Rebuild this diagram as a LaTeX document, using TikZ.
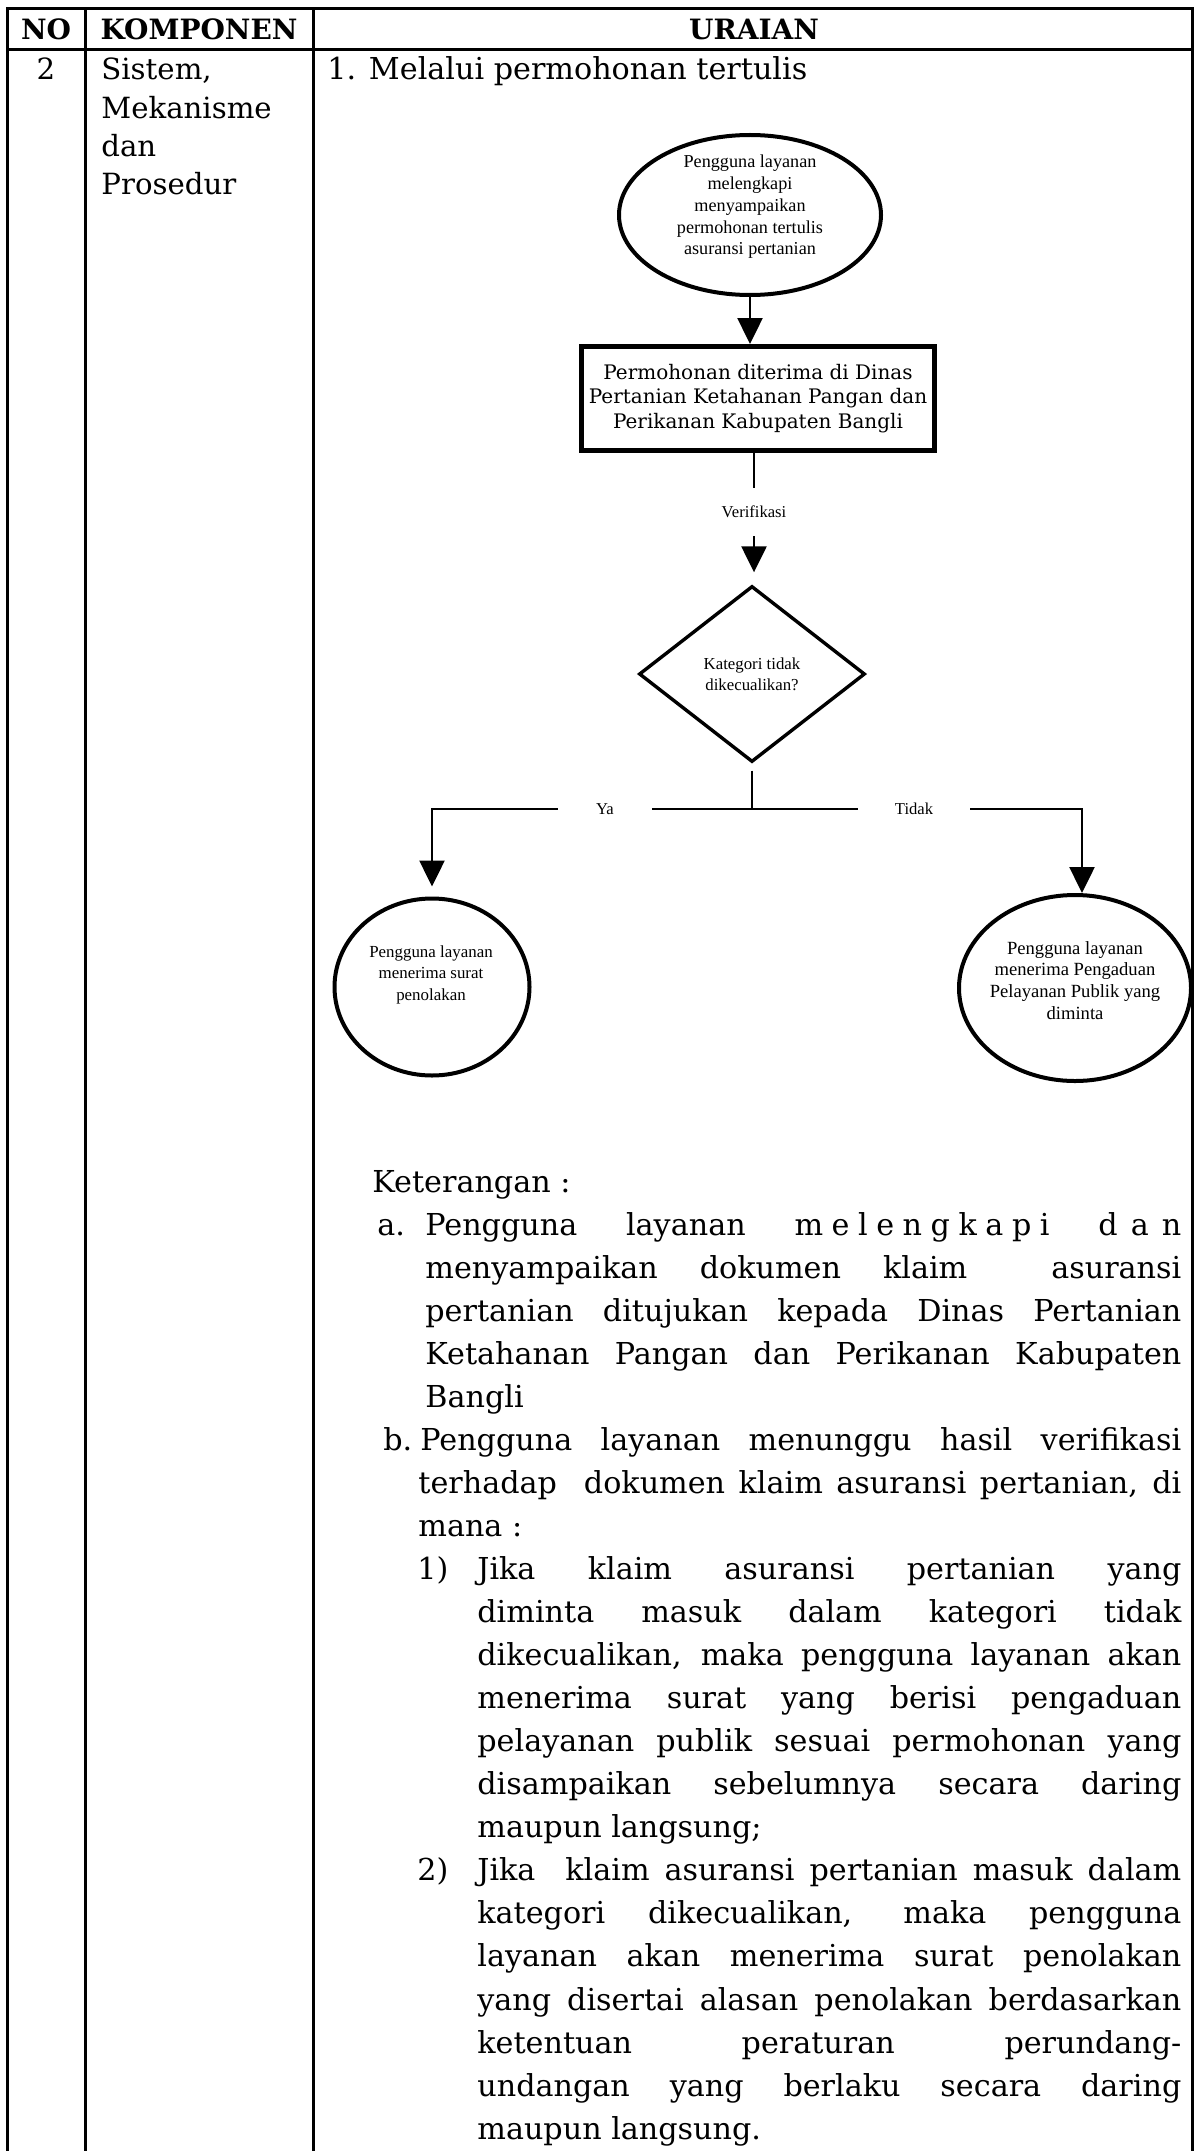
\documentclass[tikz,border=0pt]{standalone}
\usepackage{fontspec}
\setmainfont{DejaVu Serif}
\newfontfamily\tnr{Liberation Serif}
\usetikzlibrary{arrows.meta,shapes.geometric}
\newcommand{\jb}[2]{\makebox[#1pt][s]{#2}}
\begin{document}
\begin{tikzpicture}[x=0.5pt,y=-0.5pt,
  tbl/.style={line width=1.5pt, line join=miter},
  hd/.style={font=\fontsize{14}{16}\selectfont\bfseries, anchor=base, inner sep=0},
  body/.style={font=\fontsize{15.1}{18}\selectfont, anchor=base west, inner sep=0},
  conn/.style={line width=1.25pt},
  arr/.style={conn, -{Triangle[width=12.5pt,length=13pt]}},
  ftx/.style={align=center, inner sep=0, font=\tnr\fontsize{9.1}{10.85}\selectfont},
  lbl/.style={inner sep=0, font=\tnr\fontsize{8.3}{10}\selectfont},
  oval/.style={ellipse, draw, line width=2pt, inner sep=0}
]
\fill[white] (0,0) rectangle (1197,2151);
\useasboundingbox (0,0) rectangle (1197,2151);

% table
\draw[tbl] (7,2151) -- (7,9) -- (1192,9) -- (1192,2151);
\draw[tbl] (7,50) -- (1192,50);
\draw[tbl] (85,9) -- (85,2151);
\draw[tbl] (313,9) -- (313,2151);

\node[hd] (hno) at (46,40) {NO};
\node[hd] (hkomp) at (199,40) {KOMPONEN};
\node[hd] (hur) at (754,40) {URAIAN};

\node[body, anchor=base, font=\fontsize{14.6}{18}\selectfont] (no2) at (46,80) {2};
\node[body, font=\fontsize{14.6}{18}\selectfont] (k1) at (101,80) {Sistem,};
\node[body, font=\fontsize{14.6}{18}\selectfont] (k2) at (101,118.5) {Mekanisme};
\node[body, font=\fontsize{14.6}{18}\selectfont] (k3) at (101,157) {dan};
\node[body, font=\fontsize{14.6}{18}\selectfont] (k4) at (101,195) {Prosedur};
\node[body] (u1) at (327,80) {1. Melalui permohonan tertulis};

% flowchart
\node[oval, minimum width=131pt, minimum height=80pt] (e1) at (750,215) {};
\node[ftx] (e1t) at (750,207) {Pengguna layanan\\melengkapi\\menyampaikan\\permohonan tertulis\\asuransi pertanian};
\node[draw, line width=2.5pt, minimum width=176.5pt, minimum height=52pt, inner sep=0, align=center,
      font=\fontsize{10}{12.25}\selectfont] (r1) at (758,398.5)
      {Permohonan diterima di Dinas\\Pertanian Ketahanan Pangan dan\\Perikanan Kabupaten Bangli};
\draw[arr] (e1.south) -- (e1.south |- r1.north);

\node[lbl, minimum height=24pt] (ver) at (754,512) {Verifikasi};
\node[diamond, draw, line width=1.7pt, minimum width=113pt, minimum height=88pt, inner sep=0, align=center,
      font=\tnr\fontsize{8.4}{10.5}\selectfont] (d) at (752,674) {Kategori tidak\\dikecualikan?};
\draw[conn] (r1.south -| ver) -- (ver.north);
\draw[arr, shorten >=6pt] (ver.south) -- (ver.south |- d.north);

\coordinate (j) at (752,809);
\node[lbl, minimum width=47pt] (ya) at (605,809) {Ya};
\node[lbl, minimum width=56pt] (td) at (914,809) {Tidak};
\node[oval, minimum width=97.5pt, minimum height=88.5pt] (c1) at (432,987) {};
\node[ftx, font=\tnr\fontsize{8.45}{10.75}\selectfont] (c1t) at (431,974.5) {Pengguna layanan\\menerima surat\\penolakan};
\node[oval, minimum width=116pt, minimum height=93pt] (c2) at (1075,988) {};
\node[ftx, font=\tnr\fontsize{9.3}{10.9}\selectfont] (c2t) at (1075,980.5) {Pengguna layanan\\menerima Pengaduan\\Pelayanan Publik yang\\diminta};

\draw[conn, shorten <=3.5pt] (d.south) -- (j);
\draw[conn] (ya.east) -- (td.west);
\draw[arr, shorten >=5pt] (ya.west) -| (c1.north);
\draw[arr] (td.east) -| ([xshift=3.5pt]c2.north);

% keterangan
\node[body] (ket) at (372,1192) {Keterangan :};
\node[body] (la) at (377,1235.1) {a.};
\node[body] (a1) at (425,1235.1) {\jb{378}{Pengguna layanan \jb{127.5}{m e l e n g k a p i} \jb{41.5}{d a n}}};
\node[body] (a2) at (425,1278.1) {\jb{378}{menyampaikan dokumen klaim\ \ asuransi}};
\node[body] (a3) at (425,1321.2) {\jb{378}{pertanian ditujukan kepada Dinas Pertanian}};
\node[body] (a4) at (425,1364.2) {\jb{378}{Ketahanan Pangan dan Perikanan Kabupaten}};
\node[body] (a5) at (425,1407.3) {Bangli};
\node[body] (lb) at (383,1450.3) {b.};
\node[body] (b1) at (420,1450.3) {\jb{380.5}{Pengguna layanan menunggu hasil verifikasi}};
\node[body] (b2) at (418,1493.4) {\jb{381.5}{terhadap\ \ dokumen klaim asuransi pertanian, di}};
\node[body] (b3) at (418,1536.4) {mana :};
\node[body] (l1) at (417,1579.5) {1)};
\node[body] (p1) at (477,1579.5) {\jb{352}{Jika klaim asuransi pertanian yang}};
\node[body] (p2) at (477,1622.5) {\jb{352}{diminta masuk dalam kategori tidak}};
\node[body] (p3) at (477,1665.6) {\jb{352}{dikecualikan, maka pengguna layanan akan}};
\node[body] (p4) at (477,1708.6) {\jb{352}{menerima surat yang berisi pengaduan}};
\node[body] (p5) at (477,1751.7) {\jb{352}{pelayanan publik sesuai permohonan yang}};
\node[body] (p6) at (477,1794.7) {\jb{352}{disampaikan sebelumnya secara daring}};
\node[body] (p7) at (477,1837.8) {maupun langsung;};
\node[body] (l2) at (417,1880.8) {2)};
\node[body] (q1) at (477,1880.8) {\jb{352}{Jika\ \ klaim asuransi pertanian masuk dalam}};
\node[body] (q2) at (477,1923.9) {\jb{352}{kategori dikecualikan, maka pengguna}};
\node[body] (q3) at (477,1966.9) {\jb{352}{layanan akan menerima surat penolakan}};
\node[body] (q4) at (477,2010.0) {\jb{352}{yang disertai alasan penolakan berdasarkan}};
\node[body] (q5) at (477,2053.0) {\jb{352}{ketentuan peraturan perundang-}};
\node[body] (q6) at (477,2096.1) {\jb{352}{undangan yang berlaku secara daring}};
\node[body] (q7) at (477,2139.1) {maupun langsung.};
\end{tikzpicture}
\end{document}
